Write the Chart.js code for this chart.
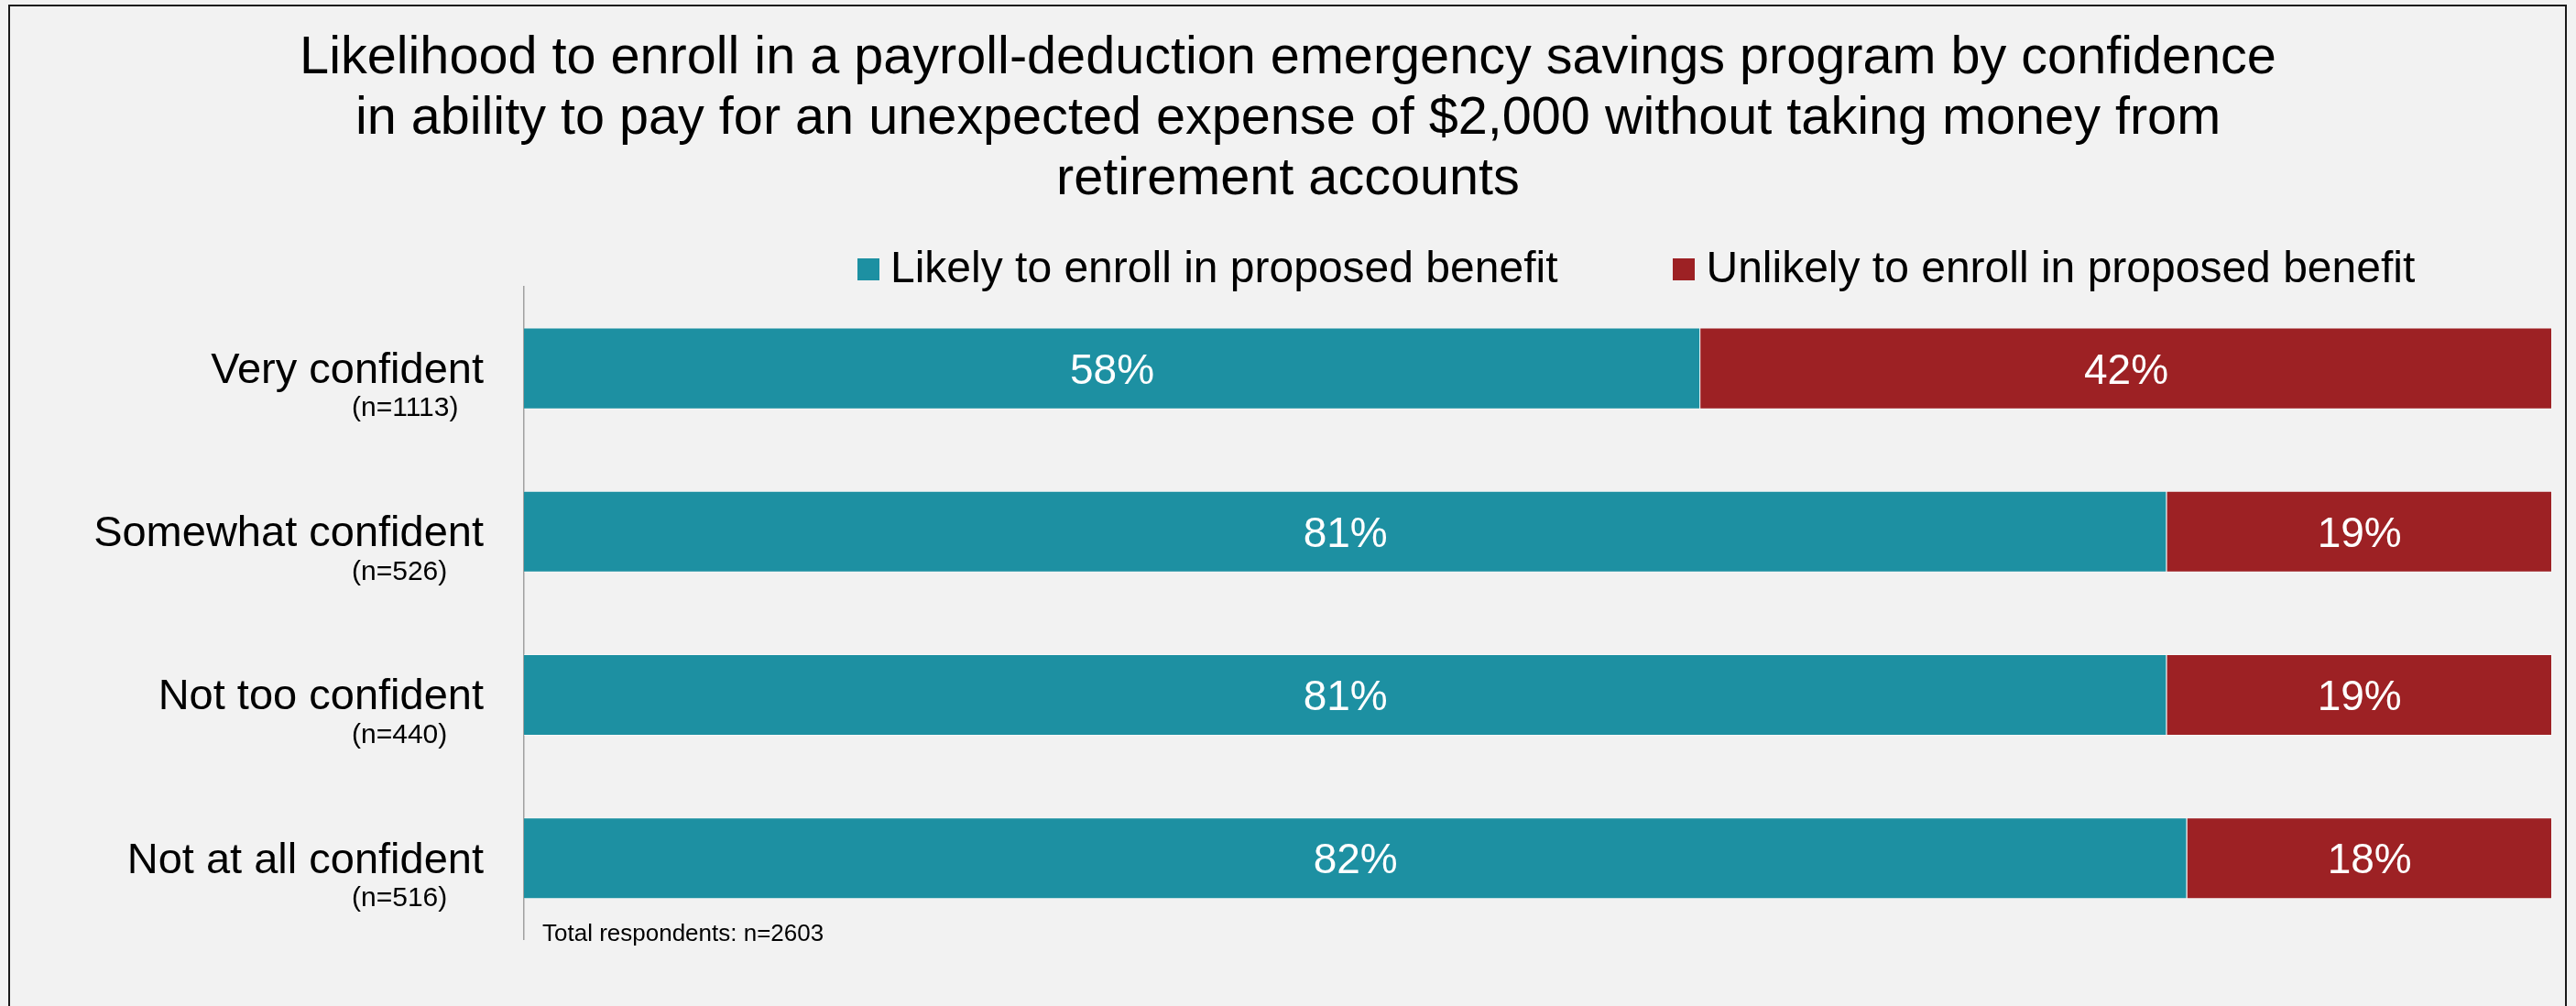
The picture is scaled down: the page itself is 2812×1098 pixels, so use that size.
<!DOCTYPE html>
<html>
<head>
<meta charset="utf-8">
<script src="https://cdn.jsdelivr.net/npm/chart.js@4"></script>
<style>
  html, body { margin: 0; padding: 0; background: #f2f2f2; }
  body { width: 2812px; height: 1098px; overflow: hidden; position: relative; font-family: 'Liberation Sans', Arial, sans-serif; }
  #frame { position: absolute; left: 9px; top: 5px; width: 2793px; height: 1200px; border: 2px solid #1a1a1a; box-sizing: border-box; pointer-events: none; }
  #grafico { position: absolute; left: 0; top: 0; }
  #legenda { position: absolute; left: 936px; top: 268px; display: flex; align-items: center; font-size: 48px; line-height: 48px; color: #000; white-space: nowrap; }
  #legenda .item { display: flex; align-items: center; margin-right: 126px; }
  #legenda .caixa { width: 24px; height: 24px; margin-right: 12px; margin-top: 3px; }
  #nota { position: absolute; left: 592px; top: 1005px; font-size: 26px; line-height: 26px; color: #000; }
</style>
</head>
<body>
<div id="frame"></div>
<canvas id="grafico" width="2812" height="1098"></canvas>
<div id="legenda"></div>
<div id="nota">Total respondents: n=2603</div>
<script>
const categorias = ['Very confident', 'Somewhat confident', 'Not too confident', 'Not at all confident'];
const amostras = ['(n=1113)', '(n=526)', '(n=440)', '(n=516)'];
const provavel = [58, 81, 81, 82];
const improvavel = [42, 19, 19, 18];

const titulo = [
  'Likelihood to enroll in a payroll-deduction emergency savings program by confidence',
  'in ability to pay for an unexpected expense of $2,000 without taking money from',
  'retirement accounts'
];

Chart.defaults.font.family = "'Liberation Sans', Arial, sans-serif";
Chart.defaults.color = '#000';

// escreve o valor de cada barra no meio dela
const rotulosBarras = {
  id: 'rotulosBarras',
  afterDatasetsDraw(chart) {
    const ctx = chart.ctx;
    ctx.save();
    ctx.fillStyle = '#fff';
    ctx.font = "46px 'Liberation Sans', Arial, sans-serif";
    ctx.textAlign = 'center';
    ctx.textBaseline = 'middle';
    chart.data.datasets.forEach((ds, i) => {
      chart.getDatasetMeta(i).data.forEach((bar, j) => {
        const p = bar.getCenterPoint();
        ctx.fillText(ds.data[j] + '%', p.x, p.y + 4);
      });
    });
    ctx.restore();
  }
};

const grafico = new Chart(document.getElementById('grafico'), {
  type: 'bar',
  data: {
    labels: categorias,
    datasets: [
      {
        label: 'Likely to enroll in proposed benefit',
        data: provavel,
        backgroundColor: '#1d90a2',
        borderColor: 'rgba(255, 255, 255, 0.45)',
        borderWidth: 1
      },
      {
        label: 'Unlikely to enroll in proposed benefit',
        data: improvavel,
        backgroundColor: '#9d2124',
        borderColor: 'rgba(255, 255, 255, 0.45)',
        borderWidth: 1
      }
    ]
  },
  options: {
    indexAxis: 'y',
    responsive: false,
    animation: false,
    barPercentage: 0.5,
    categoryPercentage: 1.0,
    layout: { padding: { left: 26, right: 26, top: 0, bottom: 67 } },
    scales: {
      x: { stacked: true, min: 0, max: 100, display: false },
      // nomes das categorias, alinhados à direita junto do eixo
      y: {
        stacked: true,
        position: 'left',
        weight: 1,
        grid: { display: false, drawTicks: false },
        border: { display: true, color: '#a0a0a0', width: 1.5 },
        ticks: { font: { size: 47 }, color: '#000', crossAlign: 'near', padding: 44, labelOffset: 3 },
        afterFit(scale) { scale.width = 546; }
      },
      // tamanho da amostra, abaixo de cada categoria
      yN: {
        type: 'category',
        labels: amostras,
        position: 'left',
        offset: true,
        weight: 0,
        grid: { display: false, drawTicks: false },
        border: { display: false },
        ticks: { font: { size: 30 }, color: '#000', mirror: true, crossAlign: 'near', padding: -188, labelOffset: 44 },
        afterFit(scale) { scale.width = 0; }
      }
    },
    plugins: {
      title: {
        display: true,
        text: titulo,
        color: '#000',
        font: { size: 57.6, weight: 'normal', lineHeight: 66 / 57.6 },
        padding: { top: 31, bottom: 84 }
      },
      legend: { display: false },
      tooltip: { enabled: false }
    }
  },
  plugins: [rotulosBarras]
});

// legenda em HTML montada a partir dos datasets
const legenda = document.getElementById('legenda');
grafico.data.datasets.forEach(ds => {
  const item = document.createElement('div');
  item.className = 'item';
  const caixa = document.createElement('span');
  caixa.className = 'caixa';
  caixa.style.background = ds.backgroundColor;
  const texto = document.createElement('span');
  texto.textContent = ds.label;
  item.appendChild(caixa);
  item.appendChild(texto);
  legenda.appendChild(item);
});
</script>
</body>
</html>
